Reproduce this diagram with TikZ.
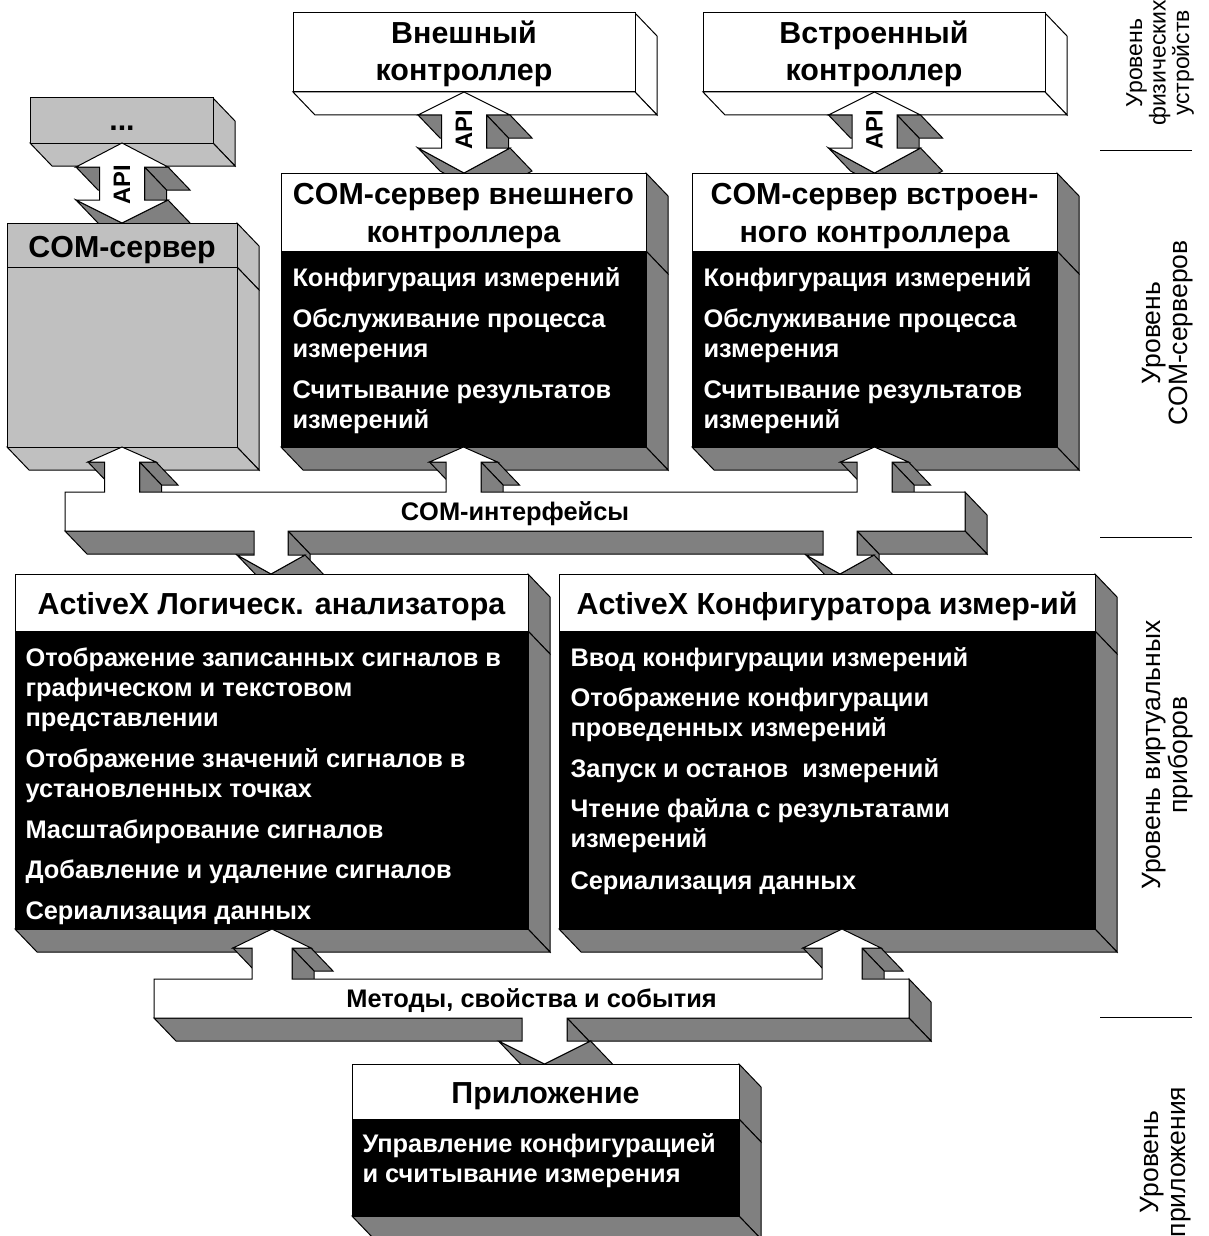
\documentclass[tikz,border=0pt]{standalone}
\usepackage{fontspec}
\setmainfont{Liberation Sans}
\definecolor{dg}{RGB}{128,128,128}
\definecolor{lg}{RGB}{192,192,192}
\tikzset{
  fc/.style={fill=dg,draw=black,line width=1pt},
  ln/.style={draw=black,line width=1pt},
  hd/.style={font=\bfseries\fontsize{30.4}{34}\selectfont,inner sep=0pt,text=black},
  bd/.style={font=\bfseries\fontsize{25.4}{29}\selectfont,inner sep=0pt,text=white,anchor=base west},
  mid/.style={font=\bfseries\fontsize{25.4}{29}\selectfont,inner sep=0pt,text=black,anchor=base},
  api/.style={font=\bfseries\fontsize{23.8}{27}\selectfont,inner sep=0pt,rotate=90},
  lbl/.style={font=\fontsize{26.5}{27}\selectfont,inner sep=0pt,rotate=90,align=center}
}
\newcommand\face[4]{\filldraw[fc] (#1,#2) -- (#3,#4) -- ({#3+22},{#4+23}) -- ({#1+22},{#2+23}) -- cycle;}
\newcommand\tdbox[6]{%
  \filldraw[ln,fill=#6] (#3,#2) -- ({#3+22},{#2+23}) -- ({#3+22},{#4+23}) -- (#3,#4) -- cycle;
  \filldraw[ln,fill=#6] (#1,#4) -- (#3,#4) -- ({#3+22},{#4+23}) -- ({#1+22},{#4+23}) -- cycle;
  \filldraw[ln,fill=#5] (#1,#2) rectangle (#3,#4);}
\newcommand\hdbox[8]{%
  \filldraw[ln,fill=#8] (#3,#2) -- ({#3+22},{#2+23}) -- ({#3+22},{#4+23}) -- (#3,#4) -- cycle;
  \filldraw[ln,fill=#8] (#3,#4) -- ({#3+22},{#4+23}) -- ({#3+22},{#5+23}) -- (#3,#5) -- cycle;
  \filldraw[ln,fill=#8] (#1,#5) -- (#3,#5) -- ({#3+22},{#5+23}) -- ({#1+22},{#5+23}) -- cycle;
  \filldraw[ln,fill=#6] (#1,#2) rectangle (#3,#4);
  \filldraw[ln,fill=#7] (#1,#4) rectangle (#3,#5);}
\newcommand\apiarrow[5]{%
  \face{#1-46}{#3}{#1-22.5}{#3}
  \face{#1+22.5}{#3}{#1+46}{#3}
  \face{#1+22.5}{#3}{#1+22.5}{#4}
  \face{#1+46}{#4}{#1}{#5}
  \face{#1}{#5}{#1-46}{#4}
  \filldraw[ln,fill=white] (#1,#2) -- ({#1+46},#3) -- ({#1+22.5},#3) -- ({#1+22.5},#4) -- ({#1+46},#4) -- (#1,#5)
    -- ({#1-46},#4) -- ({#1-22.5},#4) -- ({#1-22.5},#3) -- ({#1-46},#3) -- cycle;}
\begin{document}
\begin{tikzpicture}[x=1pt,y=-1pt,line width=1pt]
\useasboundingbox (0,0) rectangle (1208,1236);
% top level boxes
\tdbox{30}{98}{213}{143}{lg}{lg}
\tdbox{293}{13}{635}{92}{white}{white}
\tdbox{703}{13}{1045}{92}{white}{white}
% API arrows
\apiarrow{122}{143}{167}{200}{223}
\apiarrow{464}{92}{115}{148}{173}
\apiarrow{874.5}{92}{115}{148}{173}
% COM servers
\hdbox{7}{223}{237}{267}{447}{lg}{lg}{lg}
\hdbox{281}{173}{646}{251}{447}{white}{black}{dg}
\hdbox{692}{173}{1057}{251}{447}{white}{black}{dg}
% COM interfaces bar with arrows
\face{88}{462}{104.5}{462}
\face{139.5}{462}{156}{462}
\face{139.5}{462}{139.5}{492}
\face{429.5}{462}{446}{462}
\face{481}{462}{497.5}{462}
\face{481}{462}{481}{492}
\face{840.5}{462}{857}{462}
\face{892}{462}{908.5}{462}
\face{892}{462}{892}{492}
\face{965}{492}{965}{531}
\face{857}{531}{965}{531}
\face{857}{531}{857}{555}
\face{874}{555}{840}{574}
\face{840}{574}{806}{555}
\face{288}{531}{823}{531}
\face{288}{531}{288}{555}
\face{305}{555}{271}{574}
\face{271}{574}{237}{555}
\face{65}{531}{254}{531}
\filldraw[ln,fill=white] (65,492) -- (104.5,492) -- (104.5,462) -- (88,462) -- (122,447) -- (156,462) -- (139.5,462) -- (139.5,492)
 -- (446,492) -- (446,462) -- (429.5,462) -- (463.5,447) -- (497.5,462) -- (481,462) -- (481,492)
 -- (857,492) -- (857,462) -- (840.5,462) -- (874.5,447) -- (908.5,462) -- (892,462) -- (892,492)
 -- (965,492) -- (965,531) -- (857,531) -- (857,555) -- (874,555) -- (840,574) -- (806,555) -- (823,555) -- (823,531)
 -- (288,531) -- (288,555) -- (305,555) -- (271,574) -- (237,555) -- (254,555) -- (254,531) -- (65,531) -- cycle;
% ActiveX boxes
\hdbox{15}{574}{528}{631}{929}{white}{black}{dg}
\hdbox{559}{574}{1095}{631}{929}{white}{black}{dg}
% methods bar with arrows
\face{233}{948}{252}{948}
\face{292}{948}{311}{948}
\face{292}{948}{292}{979}
\face{803}{948}{822}{948}
\face{862}{948}{881}{948}
\face{862}{948}{862}{979}
\face{909}{979}{909}{1018}
\face{567}{1018}{909}{1018}
\face{567}{1018}{567}{1041}
\face{590.5}{1041}{544.5}{1064}
\face{544.5}{1064}{498.5}{1041}
\face{154}{1018}{522}{1018}
\filldraw[ln,fill=white] (154,979) -- (252,979) -- (252,948) -- (233,948) -- (272,929) -- (311,948) -- (292,948) -- (292,979)
 -- (822,979) -- (822,948) -- (803,948) -- (842,929) -- (881,948) -- (862,948) -- (862,979)
 -- (909,979) -- (909,1018) -- (567,1018) -- (567,1041) -- (590.5,1041) -- (544.5,1064) -- (498.5,1041) -- (522,1041) -- (522,1018)
 -- (154,1018) -- cycle;
% application
\hdbox{352}{1064}{739}{1119}{1216}{white}{black}{dg}
% texts
\node[hd,anchor=base] (t1a) at (464,44) {Внешный};
\node[hd,anchor=base] (t1b) at (464,81) {контроллер};
\node[hd,anchor=base] (t2a) at (874,44) {Встроенный};
\node[hd,anchor=base] (t2b) at (874,81) {контроллер};
\node[hd,anchor=base] (t0) at (122,131) {...};
\node[api] (api0) at (122,185) {API};
\node[api] (api1) at (464,130) {API};
\node[api] (api2) at (874.5,130) {API};
\node[hd,anchor=base] (s0) at (122,257) {COM-сервер};
\node[hd,anchor=base] (s1a) at (463.5,204) {COM-сервер внешнего};
\node[hd,anchor=base] (s1b) at (463.5,242) {контроллера};
\node[hd,anchor=base] (s2a) at (874.5,204) {COM-сервер встроен-};
\node[hd,anchor=base] (s2b) at (874.5,242) {ного контроллера};
\node[bd] (e1) at (292,286) {Конфигурация измерений};
\node[bd] (e2) at (292,327) {Обслуживание процесса};
\node[bd] (e3) at (292,357) {измерения};
\node[bd] (e4) at (292,398) {Считывание результатов};
\node[bd] (e5) at (292,428) {измерений};
\node[bd] (i1) at (703,286) {Конфигурация измерений};
\node[bd] (i2) at (703,327) {Обслуживание процесса};
\node[bd] (i3) at (703,357) {измерения};
\node[bd] (i4) at (703,398) {Считывание результатов};
\node[bd] (i5) at (703,428) {измерений};
\node[mid] (ci) at (515,520) {COM-интерфейсы};
\node[hd,anchor=base] (xa) at (271.5,614) {ActiveX Логическ. анализатора};
\node[hd,anchor=base] (xb) at (827,614) {ActiveX Конфигуратора измер-ий};
\node[bd] (a1) at (25,666) {Отображение записанных сигналов в};
\node[bd] (a2) at (25,696) {графическом и текстовом};
\node[bd] (a3) at (25,726) {представлении};
\node[bd] (a4) at (25,767) {Отображение значений сигналов в};
\node[bd] (a5) at (25,797) {установленных точках};
\node[bd] (a6) at (25,838) {Масштабирование сигналов};
\node[bd] (a7) at (25,878) {Добавление и удаление сигналов};
\node[bd] (a8) at (25,919) {Сериализация данных};
\node[bd] (b1) at (570,666) {Ввод конфигурации измерений};
\node[bd] (b2) at (570,706) {Отображение конфигурации};
\node[bd] (b3) at (570,736) {проведенных измерений};
\node[bd] (b4) at (570,777) {Запуск и останов\ \ измерений};
\node[bd] (b5) at (570,817) {Чтение файла с результатами};
\node[bd] (b6) at (570,847) {измерений};
\node[bd] (b7) at (570,889) {Сериализация данных};
\node[mid] (me) at (531.5,1007) {Методы, свойства и события};
\node[hd,anchor=base] (pa) at (545.5,1103) {Приложение};
\node[bd] (p1) at (362,1152) {Управление конфигурацией};
\node[bd] (p2) at (362,1182) {и считывание измерения};
% level labels
\node[lbl,font=\fontsize{23}{23.5}\selectfont] (L1) at (1160,63) {Уровень\\физических\\устройств};
\node[lbl] (L2) at (1168,333) {Уровень\\COM-серверов};
\node[lbl] (L3) at (1168,755) {Уровень виртуальных\\приборов};
\node[lbl] (L4) at (1166,1162) {Уровень\\приложения};
\draw[ln] (1100,150) -- (1192,150);
\draw[ln] (1100,537) -- (1192,537);
\draw[ln] (1100,1017) -- (1192,1017);
\end{tikzpicture}
\end{document}
